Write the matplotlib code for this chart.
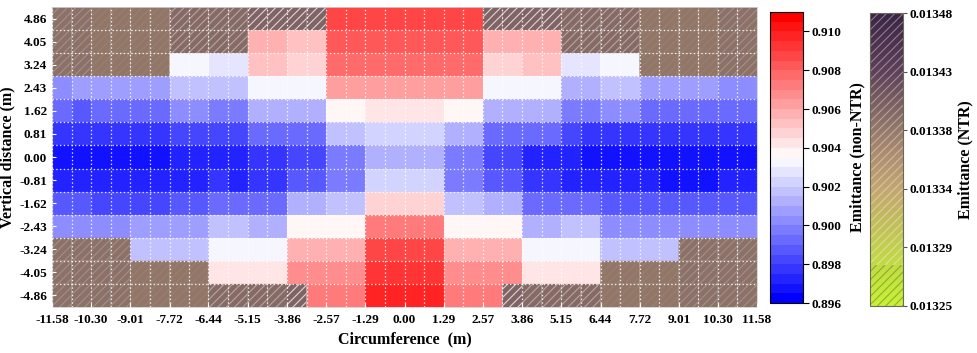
import numpy as np
import matplotlib
matplotlib.use("Agg")
import matplotlib.pyplot as plt
from matplotlib.colors import LinearSegmentedColormap, Normalize
from matplotlib.cm import ScalarMappable
from matplotlib.patches import Rectangle

plt.rcParams['font.family'] = ['Liberation Serif', 'DejaVu Serif']
plt.rcParams['font.weight'] = 'bold'
plt.rcParams['axes.labelweight'] = 'bold'
plt.rcParams['hatch.linewidth'] = 0.8

# ---------------- data ----------------
x_tick_labels = ["-11.58", "-10.30", "-9.01", "-7.72", "-6.44", "-5.15", "-3.86", "-2.57",
                 "-1.29", "0.00", "1.29", "2.57", "3.86", "5.15", "6.44", "7.72", "9.01",
                 "10.30", "11.58"]
y_tick_labels = ["4.86", "4.05", "3.24", "2.43", "1.62", "0.81", "0.00", "-0.81", "-1.62",
                 "-2.43", "-3.24", "-4.05", "-4.86"]

# emittance levels of the NTR cells
NTR_A = 0.013395
NTR_B = 0.01339
NTR_C = 0.01340
NTR_D = 0.013405
A, B, C, D = NTR_A, NTR_B, NTR_C, NTR_D

row_p486 = [A]*2 + [B]*4 + [C]*4 + [D]*4 + [0.9088]*2 + [0.9089]*4 + [0.9087]*2 + [D]*4 + [C]*4 + [B]*4 + [A]*2
row_p405 = [A]*2 + [B]*4 + [C]*4 + [0.9057]*2 + [0.9055]*2 + [0.9083]*4 + [0.9084]*4 + [0.9056]*2 + [0.9058]*2 + [C]*4 + [B]*4 + [A]*2
row_p324 = [A]*2 + [B]*4 + [0.9031]*2 + [0.9027]*2 + [0.9051]*2 + [0.9049]*2 + [0.9078]*2 + [0.9079]*4 + [0.9078]*2 + [0.9049]*2 + [0.9051]*2 + [0.9027]*2 + [0.9031]*2 + [B]*4 + [A]*2
row_p243 = [0.9005, 0.9007] + [0.9009]*2 + [0.9008]*2 + [0.9019]*2 + [0.9017]*2 + [0.9035]*2 + [0.9032]*2 + [0.9061]*2 + [0.9063]*4 + [0.9062]*2 + [0.9032]*2 + [0.9035]*2 + [0.9015]*2 + [0.9019]*2 + [0.9007]*4 + [0.9005]*2
row_p162 = [0.8993, 0.8988] + [0.8995]*2 + [0.8993]*2 + [0.9000]*2 + [0.8998]*2 + [0.9014]*2 + [0.9012]*2 + [0.9039]*2 + [0.9042]*4 + [0.9039]*2 + [0.9012]*2 + [0.9014]*2 + [0.8998]*2 + [0.9000]*2 + [0.8993]*4 + [0.8990]*2
row_p081 = [0.8979, 0.8978] + [0.8979]*4 + [0.8981]*2 + [0.8981]*2 + [0.8991]*4 + [0.9017]*2 + [0.9024]*4 + [0.9012]*2 + [0.8991]*4 + [0.8981] + [0.8979]*9
row_000 = [0.8969]*6 + [0.8972]*2 + [0.8975, 0.8970] + [0.8979]*2 + [0.8984]*2 + [0.8998]*2 + [0.9012]*4 + [0.8998]*2 + [0.8984]*2 + [0.8974]*2 + [0.8972] + [0.8969]*9
row_m081 = [0.8972]*6 + [0.8974]*2 + [0.8978, 0.8974] + [0.8979]*2 + [0.8988]*2 + [0.8998]*2 + [0.9021]*4 + [0.8999]*2 + [0.8988]*2 + [0.8978]*2 + [0.8974] + [0.8972]*4 + [0.8969]*3 + [0.8972]*2
row_m162 = [0.8986]*2 + [0.8984]*4 + [0.8986]*2 + [0.8995]*2 + [0.8993]*2 + [0.9012]*2 + [0.9017]*2 + [0.9047]*4 + [0.9017]*2 + [0.9014]*2 + [0.8993]*2 + [0.8993]*2 + [0.8986]*8
row_m243 = [0.9002]*4 + [0.9007]*4 + [0.9017]*2 + [0.9012]*2 + [0.9038]*4 + [0.9072]*4 + [0.9038]*4 + [0.9012]*2 + [0.9018]*2 + [0.9005]*8
row_m324 = [A]*4 + [0.9019]*4 + [0.9035]*2 + [0.9031]*2 + [0.9059]*4 + [0.9087]*4 + [0.9059]*4 + [0.9031]*2 + [0.9035]*2 + [0.9019]*4 + [A]*4
row_m405 = [A]*4 + [B]*4 + [0.9043]*4 + [0.9068]*4 + [0.9095]*4 + [0.9068]*4 + [0.9043]*4 + [B]*4 + [A]*4
row_m486 = [A]*4 + [B]*4 + [C]*4 + [D] + [0.9072]*3 + [0.9099]*4 + [0.9072]*3 + [D] + [C]*4 + [B]*4 + [A]*4

emittance = np.array([row_p486, row_p405, row_p324, row_p243, row_p162, row_p081, row_000,
                      row_m081, row_m162, row_m243, row_m324, row_m405, row_m486])

cb1_ticks = [0.896, 0.898, 0.900, 0.902, 0.904, 0.906, 0.908, 0.910]
cb2_tick_labels = ["0.01325", "0.01329", "0.01334", "0.01338", "0.01343", "0.01348"]

# ---------------- styles ----------------
ntr_levels = [NTR_B, NTR_A, NTR_C, NTR_D]
ntr_hatch_colors = ['#978070', '#a48f86', '#b7a4a8', '#ded4de']

ntr_cmap = LinearSegmentedColormap.from_list('ntr', [
    (0.0, '#c8f03a'), (0.12, '#c2de42'), (0.25, '#c2c456'), (0.4, '#c2a670'),
    (0.52, '#ac8c70'), (0.62, '#8e7468'), (0.8, '#5e4058'), (1.0, '#3a2444')])
bwr = plt.get_cmap('bwr', 30)
norm1 = Normalize(0.896, 0.911)
norm2 = Normalize(0.01325, 0.01348)

# ---------------- figure ----------------
W, H = 977, 353
fig = plt.figure(figsize=(W / 100, H / 100), dpi=100)
ax = fig.add_axes([52 / W, 1 - 307 / H, 705 / W, 300 / H])

x_ticks = np.array([float(s) for s in x_tick_labels])
x_edges = np.linspace(x_ticks[0], x_ticks[-1], 2 * (len(x_ticks) - 1) + 1)
y_centers = np.array([float(s) for s in y_tick_labels])
dy = y_centers[0] - y_centers[1]
y_edges = np.concatenate([[y_centers[0] + dy / 2], (y_centers[:-1] + y_centers[1:]) / 2,
                          [y_centers[-1] - dy / 2]])

is_ntr = emittance < 0.1
main_vals = np.ma.masked_where(is_ntr, emittance)
ax.pcolormesh(x_edges, y_edges, main_vals, cmap=bwr, norm=norm1)

for lev, hc in zip(ntr_levels, ntr_hatch_colors):
    sel = np.ma.masked_where(~np.isclose(emittance, lev, rtol=0, atol=1e-7), emittance)
    ax.pcolor(x_edges, y_edges, sel, cmap=ntr_cmap, norm=norm2, hatch='////',
              edgecolor=hc, linewidth=0)

ax.set_xlim(x_edges[0], x_edges[-1])
ax.set_ylim(y_edges[-1], y_edges[0])
ax.set_xticks(x_ticks)
ax.set_xticklabels(x_tick_labels)
ax.set_xticks(x_edges[1::2], minor=True)
ax.set_yticks(y_centers)
ax.set_yticklabels(y_tick_labels)
ax.set_yticks(y_edges[1:-1], minor=True)
ax.set_axisbelow(False)
gstyle = dict(color='white', linestyle=(0, (1.1, 1.9)), linewidth=0.9, alpha=0.9)
ax.xaxis.grid(True, which='both', **gstyle)
ax.yaxis.grid(True, which='minor', **gstyle)
ax.tick_params(which='minor', length=0)
ax.tick_params(which='major', direction='in', color='white', length=3, labelsize=9.5)
ax.tick_params(axis='x', which='major', pad=5)
ax.tick_params(axis='y', which='major', pad=3.5)
for sp in ax.spines.values():
    sp.set_color('#d0d0d0')
    sp.set_linewidth(0.6)
ax.set_xlabel('Circumference  (m)', fontsize=11.5, labelpad=4)
ax.set_ylabel('Vertical distance (m)', fontsize=11.5, labelpad=3)

# colorbar non-NTR
cax1 = fig.add_axes([770 / W, 1 - 303 / H, 33 / W, 291 / H])
cb1 = fig.colorbar(ScalarMappable(norm=norm1, cmap=bwr), cax=cax1, ticks=cb1_ticks)
cb1.ax.set_yticklabels([f"{t:.3f}" for t in cb1_ticks])
cb1.ax.tick_params(labelsize=9.5, length=4, width=0.8, direction='out', pad=2)
cb1.outline.set_edgecolor('black')
cb1.outline.set_linewidth(0.8)
cb1.set_label('Emittance (non-NTR)', fontsize=11.5, fontweight='bold', labelpad=6)

# colorbar NTR
cax2 = fig.add_axes([870 / W, 1 - 306 / H, 33 / W, 293 / H])
cb2_ticks = np.linspace(norm2.vmin, norm2.vmax, len(cb2_tick_labels))
cb2 = fig.colorbar(ScalarMappable(norm=norm2, cmap=ntr_cmap), cax=cax2, ticks=cb2_ticks)
cb2.ax.set_yticklabels(cb2_tick_labels)
cb2.ax.tick_params(labelsize=9.5, length=3, width=0.8, direction='out', pad=2, color='#555555')
cb2.outline.set_edgecolor('#6a6a5a')
cb2.outline.set_linewidth(0.8)
cb2.set_label('Emittance (NTR)', fontsize=11.5, fontweight='bold', labelpad=3)
cax2.add_patch(Rectangle((0, 0), 1, 0.14, transform=cax2.transAxes, fill=False, hatch='////',
                         edgecolor=(0.30, 0.42, 0.05, 0.45), linewidth=0))
cax2.add_patch(Rectangle((0, 0.14), 1, 0.86, transform=cax2.transAxes, fill=False, hatch='////',
                         edgecolor=(1, 1, 1, 0.38), linewidth=0))

fig.savefig('out.png', dpi=100)
